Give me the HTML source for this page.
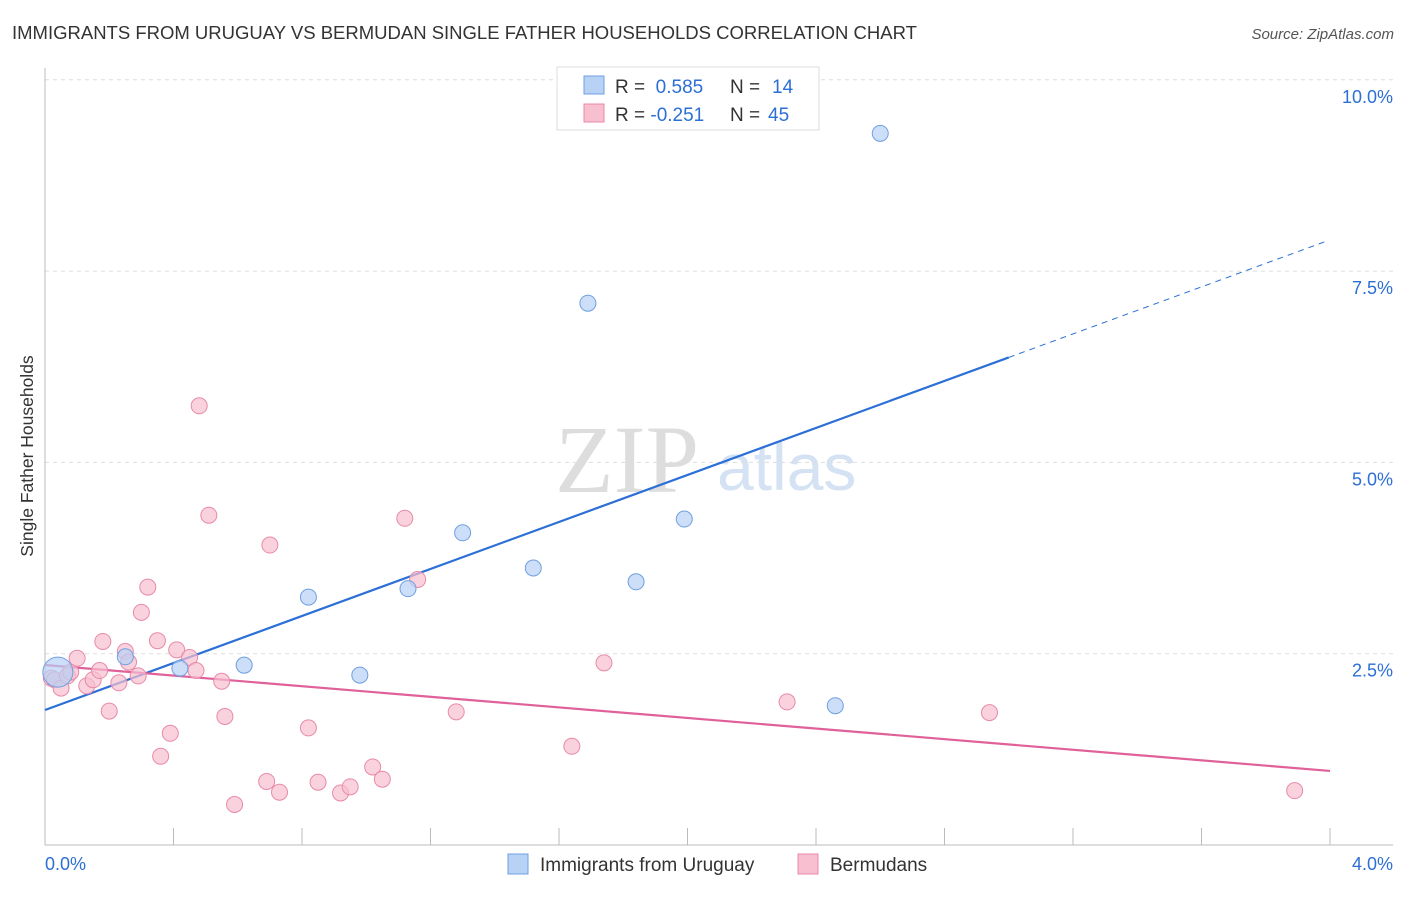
<!DOCTYPE html>
<html><head><meta charset="utf-8"><style>
body{margin:0;background:#fff;font-family:"Liberation Sans",sans-serif;}
</style></head><body>
<svg width="1406" height="892" xmlns="http://www.w3.org/2000/svg" font-family="Liberation Sans, sans-serif">
<text x="12" y="39" font-size="18.5" fill="#333">IMMIGRANTS FROM URUGUAY VS BERMUDAN SINGLE FATHER HOUSEHOLDS CORRELATION CHART</text>
<text x="1394" y="39" font-size="15" fill="#555" font-style="italic" text-anchor="end">Source: ZipAtlas.com</text>
<text x="555" y="492" font-size="96" fill="#ddd" font-family="Liberation Serif, serif">ZIP</text>
<text x="717" y="490" font-size="66" fill="#d4e2f4">atlas</text>
<g id="grid"></g><g id="axes"></g><g id="lines"></g><g id="pts"></g>
<text transform="translate(33,456) rotate(-90)" font-size="17.5" fill="#333" text-anchor="middle">Single Father Households</text>
<g>
<rect x="557" y="67" width="262" height="63" fill="#fff" stroke="#ddd"/>
<rect x="584" y="76" width="20" height="18" fill="#b8d2f5" stroke="#6f9fe0"/>
<text x="615" y="93" font-size="19" fill="#333">R = <tspan fill="#2c6fd6">&#160;0.585</tspan><tspan x="730">N = </tspan><tspan fill="#2c6fd6" x="772">14</tspan></text>
<rect x="584" y="104" width="20" height="18" fill="#f7bfd0" stroke="#e88aa8"/>
<text x="615" y="121" font-size="19" fill="#333">R = <tspan fill="#2c6fd6">-0.251</tspan><tspan x="730">N = </tspan><tspan fill="#2c6fd6" x="768">45</tspan></text>
</g>
<g>
<rect x="508" y="854" width="20" height="20" fill="#b8d2f5" stroke="#6f9fe0"/>
<text x="540" y="871" font-size="19" fill="#333">Immigrants from Uruguay</text>
<rect x="798" y="854" width="20" height="20" fill="#f7bfd0" stroke="#e88aa8"/>
<text x="830" y="871" font-size="19" fill="#333">Bermudans</text>
</g>
</svg>
<script>
const blueX=[0.04,0.25,0.42,0.62,0.82,0.98,1.13,1.30,1.52,1.69,1.84,1.99,2.46,2.60];
const blueY=[2.26,2.46,2.31,2.35,3.24,2.22,3.35,4.08,3.62,7.08,3.44,4.26,1.82,9.30];
const pinkX=[0.02,0.03,0.05,0.07,0.08,0.10,0.13,0.15,0.17,0.18,0.20,0.23,0.25,0.26,0.29,0.30,0.32,0.35,0.36,0.39,0.41,0.45,0.47,0.48,0.51,0.55,0.56,0.59,0.69,0.70,0.73,0.82,0.85,0.92,0.95,1.02,1.05,1.12,1.16,1.28,1.64,1.74,2.31,2.94,3.89];
const pinkY=[2.18,2.16,2.05,2.21,2.26,2.44,2.08,2.16,2.28,2.66,1.75,2.12,2.53,2.39,2.21,3.04,3.37,2.67,1.16,1.46,2.55,2.45,2.28,5.74,4.31,2.14,1.68,0.53,0.83,3.92,0.69,1.53,0.82,0.68,0.76,1.02,0.86,4.27,3.47,1.74,1.29,2.38,1.87,1.73,0.71];
const blueTrend=[1.764,1.536]; const pinkTrend=[2.352,-0.346];
const xTicks=[0,4]; const yTicks=[2.5,5,7.5,10];
const X=v=>45+v/4*1285, Y=v=>845-v*76.52;
const NS='http://www.w3.org/2000/svg';
function mk(p,t,a){const e=document.createElementNS(NS,t);for(const k in a)e.setAttribute(k,a[k]);document.getElementById(p).appendChild(e);return e;}
yTicks.forEach(t=>{
 const l=mk('grid','line',{x1:45,x2:1393,y1:Y(t),y2:Y(t),stroke:'#ddd','stroke-dasharray':'4,4'});
 
 
 const tx=mk('grid','text',{x:1393,y:Y(t)+23,'font-size':18,fill:'#2c6fd6','text-anchor':'end'});tx.textContent=t.toFixed(1)+'%';
 
 
});
mk('axes','line',{x1:45,x2:45,y1:68,y2:845,stroke:'#bbb'});
mk('axes','line',{x1:45,x2:1393,y1:845,y2:845,stroke:'#bbb'});
for(let i=1;i<=10;i++){mk('axes','line',{x1:45+i*128.5,x2:45+i*128.5,y1:828,y2:845,stroke:'#bbb'});}
xTicks.forEach((t,i)=>{const tx=mk('axes','text',{x:i?1393:45,y:870,'font-size':18,fill:'#2c6fd6','text-anchor':i?'end':'start'});tx.textContent=t.toFixed(1)+'%';
 
 });
const bl=mk('lines','line',{x1:X(0),y1:Y(blueTrend[0]),x2:X(3.0),y2:Y(blueTrend[0]+blueTrend[1]*3.0),stroke:'#2c6fd6','stroke-width':2.2});


const bd=mk('lines','line',{x1:X(3.0),y1:Y(blueTrend[0]+blueTrend[1]*3.0),x2:X(3.99),y2:Y(blueTrend[0]+blueTrend[1]*3.99),stroke:'#2c6fd6','stroke-width':1,'stroke-dasharray':'6,5'});


const pl=mk('lines','line',{x1:X(0),y1:Y(pinkTrend[0]),x2:X(4),y2:Y(pinkTrend[0]+pinkTrend[1]*4),stroke:'#e0609a','stroke-width':2.2});


pinkX.forEach((v,i)=>{const c=mk('pts','circle',{cx:X(v),cy:Y(pinkY[i]),r:8,fill:'#f7bfd0','fill-opacity':0.7,stroke:'#e88aa8'});
 
 });
blueX.forEach((v,i)=>{const c=mk('pts','circle',{cx:X(v),cy:Y(blueY[i]),r:i===0?15:8,fill:'#b8d2f5','fill-opacity':0.7,stroke:'#6f9fe0'});
 
 });
</script>
</body></html>
